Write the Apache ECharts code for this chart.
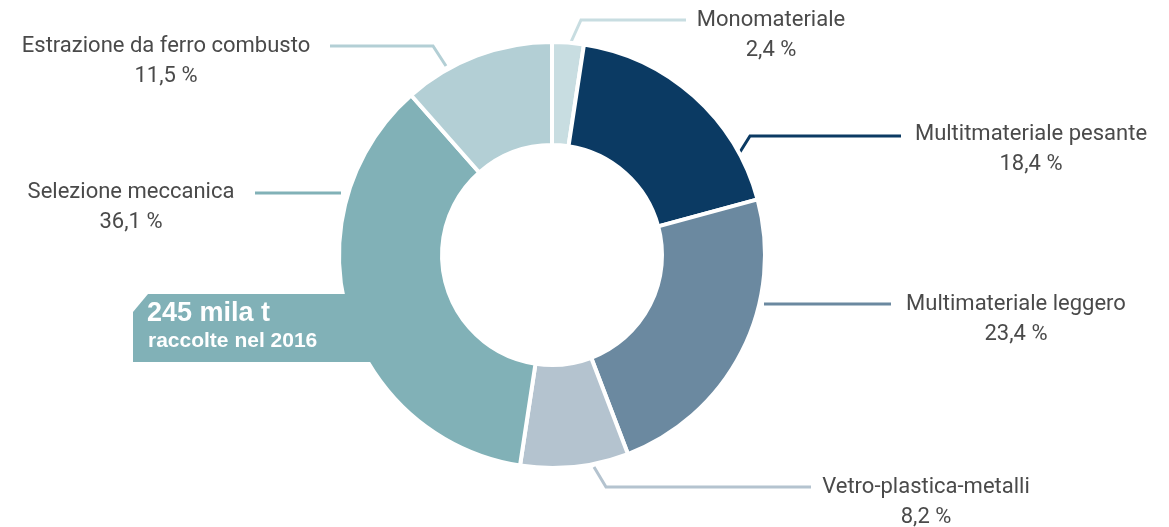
<!DOCTYPE html>
<html>
<head>
<meta charset="utf-8">
<script src="https://cdn.jsdelivr.net/npm/echarts@6/dist/echarts.min.js"></script>
<style>
html,body{margin:0;padding:0;background:#fff;}
#chart{width:1169px;height:527px;}
</style>
</head>
<body>
<div id="chart"></div>
<script>
// ---- data ----
const categories = ['Monomateriale', 'Multitmateriale pesante', 'Multimateriale leggero', 'Vetro-plastica-metalli', 'Selezione meccanica', 'Estrazione da ferro combusto'];
const values = [2.4, 18.4, 23.4, 8.2, 36.1, 11.5];
const colors = ['#c8dde1', '#0b3a63', '#6b89a0', '#b4c3cf', '#81b1b7', '#b3cfd5'];
const totalLine1 = '245 mila t';
const totalLine2 = 'raccolte nel 2016';

// ---- label layout (annotation positions) ----
const labelPos = [
  {x: 771, y: 35, line: [[571, 42], [581, 20], [686, 20]]},
  {x: 1031, y: 149, line: [[740, 152], [750, 136], [901, 136]]},
  {x: 1016, y: 319, line: [[764, 304], [830, 304], [891, 304]]},
  {x: 926, y: 502, line: [[594, 467], [606, 487], [811, 487]]},
  {x: 131, y: 207, line: [[341, 193], [300, 193], [255, 193]]},
  {x: 166, y: 61, line: [[446, 66], [433, 46], [330, 46]]}
];

const fmt = v => v.toFixed(1).replace('.', ',') + ' %';
const FONT = 'Roboto, "Liberation Sans", sans-serif';

const chart = echarts.init(document.getElementById('chart'), null, {renderer: 'canvas'});
chart.setOption({
  animation: false,
  backgroundColor: '#ffffff',
  series: [{
    type: 'pie',
    center: [552, 255],
    radius: [110, 213],
    startAngle: 90,
    clockwise: true,
    avoidLabelOverlap: false,
    itemStyle: {borderColor: '#ffffff', borderWidth: 4},
    label: {
      show: true,
      position: 'outside',
      formatter: p => p.name + '\n' + fmt(p.value),
      color: '#4a4a4a',
      fontFamily: FONT,
      fontSize: 22,
      lineHeight: 30,
      align: 'center'
    },
    labelLine: {show: true, lineStyle: {width: 3}},
    labelLayout: function (p) {
      const L = labelPos[p.dataIndex];
      return {x: L.x, y: L.y, align: 'center', verticalAlign: 'middle', labelLinePoints: L.line};
    },
    data: categories.map((c, i) => ({
      name: c,
      value: values[i],
      itemStyle: {color: colors[i]},
      labelLine: {lineStyle: {color: colors[i], width: 3}}
    }))
  }],
  graphic: [{
    type: 'polygon',
    z: 100,
    shape: {points: [[133, 312], [148, 294], [378, 294], [378, 362], [133, 362]]},
    style: {fill: colors[4]}
  }, {
    type: 'text',
    z: 101,
    style: {x: 147, y: 314, verticalAlign: 'middle', text: totalLine1, fill: '#ffffff', font: 'bold 27px "Liberation Sans", Arial, sans-serif'}
  }, {
    type: 'text',
    z: 101,
    style: {x: 148, y: 341, verticalAlign: 'middle', text: totalLine2, fill: '#ffffff', font: 'bold 21px "Liberation Sans", Arial, sans-serif'}
  }]
});
</script>
</body>
</html>
